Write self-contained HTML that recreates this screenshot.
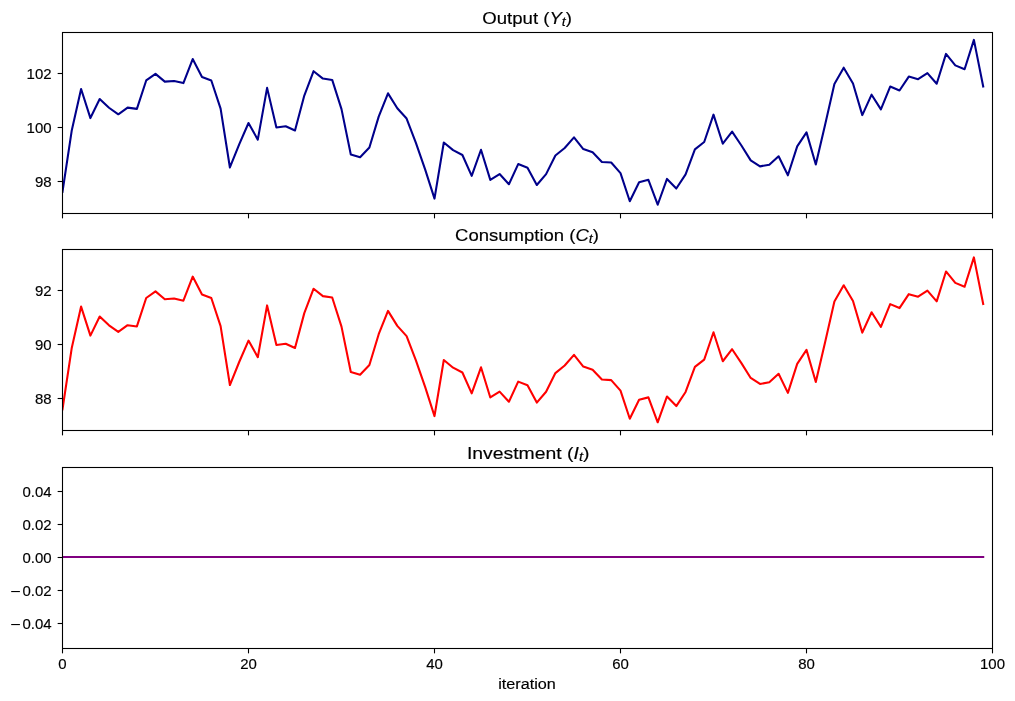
<!DOCTYPE html>
<html><head><meta charset="utf-8"><title>Chart</title>
<style>html,body{margin:0;padding:0;background:#fff;}svg{display:block;will-change:transform;}</style>
</head><body>
<svg width="1015" height="701" viewBox="0 0 1015 701">
<rect width="1015" height="701" fill="#fff"/>
<defs><clipPath id="c0"><rect x="62.5" y="32.5" width="930.0" height="181.0"/></clipPath><clipPath id="c1"><rect x="62.5" y="249.5" width="930.0" height="181.0"/></clipPath><clipPath id="c2"><rect x="62.5" y="467.5" width="930.0" height="181.0"/></clipPath></defs>
<polyline clip-path="url(#c0)" points="62.50,191.72 71.80,130.15 81.10,89.01 90.40,118.06 99.70,99.00 109.00,107.74 118.30,114.28 127.60,107.64 136.90,108.88 146.20,80.47 155.50,73.85 164.80,81.65 174.10,80.94 183.40,83.10 192.70,59.05 202.00,76.96 211.30,80.47 220.60,108.55 229.90,167.47 239.20,144.46 248.50,123.03 257.80,139.66 267.10,87.87 276.40,127.51 285.70,126.20 295.00,130.48 304.30,95.59 313.60,71.19 322.90,78.58 332.20,79.93 341.50,109.09 350.80,154.45 360.10,157.21 369.40,147.43 378.70,116.65 388.00,93.33 397.30,108.28 406.60,118.54 415.90,142.84 425.20,169.57 434.50,198.58 443.80,142.47 453.10,150.13 462.40,154.99 471.70,175.84 481.00,149.76 490.30,179.89 499.60,174.06 508.90,184.21 518.20,164.07 527.50,167.68 536.80,185.02 546.10,174.16 555.40,155.53 564.70,147.97 574.00,137.34 583.30,149.05 592.60,152.29 601.90,162.01 611.20,162.55 620.50,173.08 629.80,201.22 639.10,182.26 648.40,179.83 657.70,204.73 667.00,178.92 676.30,188.53 685.60,174.43 694.90,149.32 704.20,142.03 713.50,114.66 722.80,143.71 732.10,131.67 741.40,145.54 750.70,160.39 760.00,166.39 769.30,164.71 778.60,156.24 787.90,175.30 797.20,146.35 806.50,132.35 815.80,164.50 825.10,124.75 834.40,83.98 843.70,67.68 853.00,83.44 862.30,115.09 871.60,94.68 880.90,109.42 890.20,86.58 899.50,90.52 908.80,76.59 918.10,79.18 927.40,73.08 936.70,83.77 946.00,53.91 955.30,65.35 964.60,69.19 973.90,39.87 983.20,86.41" fill="none" stroke="#00008b" stroke-width="2.08" stroke-linejoin="round" stroke-linecap="square"/>
<polyline clip-path="url(#c1)" points="62.50,409.27 71.80,347.70 81.10,306.56 90.40,335.61 99.70,316.55 109.00,325.29 118.30,331.83 127.60,325.19 136.90,326.43 146.20,298.02 155.50,291.40 164.80,299.20 174.10,298.49 183.40,300.65 192.70,276.60 202.00,294.51 211.30,298.02 220.60,326.10 229.90,385.02 239.20,362.01 248.50,340.58 257.80,357.21 267.10,305.42 276.40,345.06 285.70,343.75 295.00,348.03 304.30,313.14 313.60,288.74 322.90,296.13 332.20,297.48 341.50,326.64 350.80,372.00 360.10,374.76 369.40,364.98 378.70,334.20 388.00,310.88 397.30,325.83 406.60,336.09 415.90,360.39 425.20,387.12 434.50,416.13 443.80,360.02 453.10,367.68 462.40,372.54 471.70,393.39 481.00,367.31 490.30,397.44 499.60,391.61 508.90,401.76 518.20,381.62 527.50,385.23 536.80,402.57 546.10,391.71 555.40,373.08 564.70,365.52 574.00,354.89 583.30,366.60 592.60,369.84 601.90,379.56 611.20,380.10 620.50,390.63 629.80,418.77 639.10,399.81 648.40,397.38 657.70,422.28 667.00,396.47 676.30,406.08 685.60,391.98 694.90,366.87 704.20,359.58 713.50,332.21 722.80,361.26 732.10,349.22 741.40,363.09 750.70,377.94 760.00,383.94 769.30,382.26 778.60,373.79 787.90,392.85 797.20,363.90 806.50,349.90 815.80,382.05 825.10,342.30 834.40,301.53 843.70,285.23 853.00,300.99 862.30,332.64 871.60,312.23 880.90,326.97 890.20,304.13 899.50,308.07 908.80,294.14 918.10,296.73 927.40,290.63 936.70,301.32 946.00,271.46 955.30,282.90 964.60,286.74 973.90,257.42 983.20,303.96" fill="none" stroke="#ff0000" stroke-width="2.08" stroke-linejoin="round" stroke-linecap="square"/>
<line clip-path="url(#c2)" x1="62.5" y1="557" x2="983.20" y2="557" stroke="#800080" stroke-width="2.08" stroke-linecap="square"/>
<rect x="62.5" y="32.5" width="930.0" height="181.0" fill="none" stroke="#000" stroke-width="1.1"/>
<line x1="62.5" y1="213.5" x2="62.5" y2="218.36" stroke="#000" stroke-width="1.1"/>
<line x1="248.5" y1="213.5" x2="248.5" y2="218.36" stroke="#000" stroke-width="1.1"/>
<line x1="434.5" y1="213.5" x2="434.5" y2="218.36" stroke="#000" stroke-width="1.1"/>
<line x1="620.5" y1="213.5" x2="620.5" y2="218.36" stroke="#000" stroke-width="1.1"/>
<line x1="806.5" y1="213.5" x2="806.5" y2="218.36" stroke="#000" stroke-width="1.1"/>
<line x1="992.5" y1="213.5" x2="992.5" y2="218.36" stroke="#000" stroke-width="1.1"/>
<rect x="62.5" y="249.5" width="930.0" height="181.0" fill="none" stroke="#000" stroke-width="1.1"/>
<line x1="62.5" y1="430.5" x2="62.5" y2="435.36" stroke="#000" stroke-width="1.1"/>
<line x1="248.5" y1="430.5" x2="248.5" y2="435.36" stroke="#000" stroke-width="1.1"/>
<line x1="434.5" y1="430.5" x2="434.5" y2="435.36" stroke="#000" stroke-width="1.1"/>
<line x1="620.5" y1="430.5" x2="620.5" y2="435.36" stroke="#000" stroke-width="1.1"/>
<line x1="806.5" y1="430.5" x2="806.5" y2="435.36" stroke="#000" stroke-width="1.1"/>
<line x1="992.5" y1="430.5" x2="992.5" y2="435.36" stroke="#000" stroke-width="1.1"/>
<rect x="62.5" y="467.5" width="930.0" height="181.0" fill="none" stroke="#000" stroke-width="1.1"/>
<line x1="62.5" y1="648.5" x2="62.5" y2="653.36" stroke="#000" stroke-width="1.1"/>
<line x1="248.5" y1="648.5" x2="248.5" y2="653.36" stroke="#000" stroke-width="1.1"/>
<line x1="434.5" y1="648.5" x2="434.5" y2="653.36" stroke="#000" stroke-width="1.1"/>
<line x1="620.5" y1="648.5" x2="620.5" y2="653.36" stroke="#000" stroke-width="1.1"/>
<line x1="806.5" y1="648.5" x2="806.5" y2="653.36" stroke="#000" stroke-width="1.1"/>
<line x1="992.5" y1="648.5" x2="992.5" y2="653.36" stroke="#000" stroke-width="1.1"/>
<line x1="57.64" y1="73.5" x2="62.5" y2="73.5" stroke="#000" stroke-width="1.1"/>
<text transform="translate(51.6,0) scale(1.07,1) translate(-51.6,0)" x="51.6" y="79.15" text-anchor="end" font-size="14" font-family="Liberation Sans, sans-serif" stroke="#000" stroke-width="0.15">102</text>
<line x1="57.64" y1="127.5" x2="62.5" y2="127.5" stroke="#000" stroke-width="1.1"/>
<text transform="translate(51.6,0) scale(1.07,1) translate(-51.6,0)" x="51.6" y="133.15" text-anchor="end" font-size="14" font-family="Liberation Sans, sans-serif" stroke="#000" stroke-width="0.15">100</text>
<line x1="57.64" y1="181.5" x2="62.5" y2="181.5" stroke="#000" stroke-width="1.1"/>
<text transform="translate(51.6,0) scale(1.07,1) translate(-51.6,0)" x="51.6" y="187.15" text-anchor="end" font-size="14" font-family="Liberation Sans, sans-serif" stroke="#000" stroke-width="0.15">98</text>
<line x1="57.64" y1="290.5" x2="62.5" y2="290.5" stroke="#000" stroke-width="1.1"/>
<text transform="translate(51.6,0) scale(1.07,1) translate(-51.6,0)" x="51.6" y="296.15" text-anchor="end" font-size="14" font-family="Liberation Sans, sans-serif" stroke="#000" stroke-width="0.15">92</text>
<line x1="57.64" y1="344.5" x2="62.5" y2="344.5" stroke="#000" stroke-width="1.1"/>
<text transform="translate(51.6,0) scale(1.07,1) translate(-51.6,0)" x="51.6" y="350.15" text-anchor="end" font-size="14" font-family="Liberation Sans, sans-serif" stroke="#000" stroke-width="0.15">90</text>
<line x1="57.64" y1="398.5" x2="62.5" y2="398.5" stroke="#000" stroke-width="1.1"/>
<text transform="translate(51.6,0) scale(1.07,1) translate(-51.6,0)" x="51.6" y="404.15" text-anchor="end" font-size="14" font-family="Liberation Sans, sans-serif" stroke="#000" stroke-width="0.15">88</text>
<line x1="57.64" y1="491.5" x2="62.5" y2="491.5" stroke="#000" stroke-width="1.1"/>
<text transform="translate(51.6,0) scale(1.07,1) translate(-51.6,0)" x="51.6" y="497.15" text-anchor="end" font-size="14" font-family="Liberation Sans, sans-serif" stroke="#000" stroke-width="0.15">0.04</text>
<line x1="57.64" y1="524.5" x2="62.5" y2="524.5" stroke="#000" stroke-width="1.1"/>
<text transform="translate(51.6,0) scale(1.07,1) translate(-51.6,0)" x="51.6" y="530.15" text-anchor="end" font-size="14" font-family="Liberation Sans, sans-serif" stroke="#000" stroke-width="0.15">0.02</text>
<line x1="57.64" y1="557.5" x2="62.5" y2="557.5" stroke="#000" stroke-width="1.1"/>
<text transform="translate(51.6,0) scale(1.07,1) translate(-51.6,0)" x="51.6" y="563.15" text-anchor="end" font-size="14" font-family="Liberation Sans, sans-serif" stroke="#000" stroke-width="0.15">0.00</text>
<line x1="57.64" y1="590.5" x2="62.5" y2="590.5" stroke="#000" stroke-width="1.1"/>
<rect x="11.2" y="591.00" width="8.7" height="1.1" fill="#000"/>
<text transform="translate(51.6,0) scale(1.07,1) translate(-51.6,0)" x="51.6" y="596.15" text-anchor="end" font-size="14" font-family="Liberation Sans, sans-serif" stroke="#000" stroke-width="0.15">0.02</text>
<line x1="57.64" y1="623.5" x2="62.5" y2="623.5" stroke="#000" stroke-width="1.1"/>
<rect x="11.2" y="624.00" width="8.7" height="1.1" fill="#000"/>
<text transform="translate(51.6,0) scale(1.07,1) translate(-51.6,0)" x="51.6" y="629.15" text-anchor="end" font-size="14" font-family="Liberation Sans, sans-serif" stroke="#000" stroke-width="0.15">0.04</text>
<text transform="translate(62.50,0) scale(1.07,1) translate(-62.50,0)" x="62.50" y="668.9" text-anchor="middle" font-size="14" font-family="Liberation Sans, sans-serif" stroke="#000" stroke-width="0.15">0</text>
<text transform="translate(248.50,0) scale(1.07,1) translate(-248.50,0)" x="248.50" y="668.9" text-anchor="middle" font-size="14" font-family="Liberation Sans, sans-serif" stroke="#000" stroke-width="0.15">20</text>
<text transform="translate(434.50,0) scale(1.07,1) translate(-434.50,0)" x="434.50" y="668.9" text-anchor="middle" font-size="14" font-family="Liberation Sans, sans-serif" stroke="#000" stroke-width="0.15">40</text>
<text transform="translate(620.50,0) scale(1.07,1) translate(-620.50,0)" x="620.50" y="668.9" text-anchor="middle" font-size="14" font-family="Liberation Sans, sans-serif" stroke="#000" stroke-width="0.15">60</text>
<text transform="translate(806.50,0) scale(1.07,1) translate(-806.50,0)" x="806.50" y="668.9" text-anchor="middle" font-size="14" font-family="Liberation Sans, sans-serif" stroke="#000" stroke-width="0.15">80</text>
<text transform="translate(992.50,0) scale(1.07,1) translate(-992.50,0)" x="992.50" y="668.9" text-anchor="middle" font-size="14" font-family="Liberation Sans, sans-serif" stroke="#000" stroke-width="0.15">100</text>
<g transform="translate(527.0,0) scale(1.1571428571428573,1) translate(-527.0,0)"><text x="527.0" y="689.1" text-anchor="middle" font-size="14" font-family="Liberation Sans, sans-serif" stroke="#000" stroke-width="0.15">iteration</text></g>
<g transform="translate(527.1,0) scale(1.1215189873417721,1) translate(-527.1,0)"><text x="527.1" y="23.8" text-anchor="middle" font-size="16.6" font-family="Liberation Sans, sans-serif" stroke="#000" stroke-width="0.15">Output (<tspan font-style="italic">Y</tspan><tspan font-style="italic" font-size="12.6" dy="2.3">t</tspan><tspan dy="-2.3">)</tspan></text></g>
<g transform="translate(527.0,0) scale(1.115625,1) translate(-527.0,0)"><text x="527.0" y="240.8" text-anchor="middle" font-size="16.6" font-family="Liberation Sans, sans-serif" stroke="#000" stroke-width="0.15">Consumption (<tspan font-style="italic">C</tspan><tspan font-style="italic" font-size="12.6" dy="2.3">t</tspan><tspan dy="-2.3">)</tspan></text></g>
<g transform="translate(528.2,0) scale(1.1679611650485437,1) translate(-528.2,0)"><text x="528.2" y="458.8" text-anchor="middle" font-size="16.6" font-family="Liberation Sans, sans-serif" stroke="#000" stroke-width="0.15">Investment (<tspan font-style="italic">I</tspan><tspan font-style="italic" font-size="12.6" dy="2.3">t</tspan><tspan dy="-2.3">)</tspan></text></g>
</svg>
</body></html>
